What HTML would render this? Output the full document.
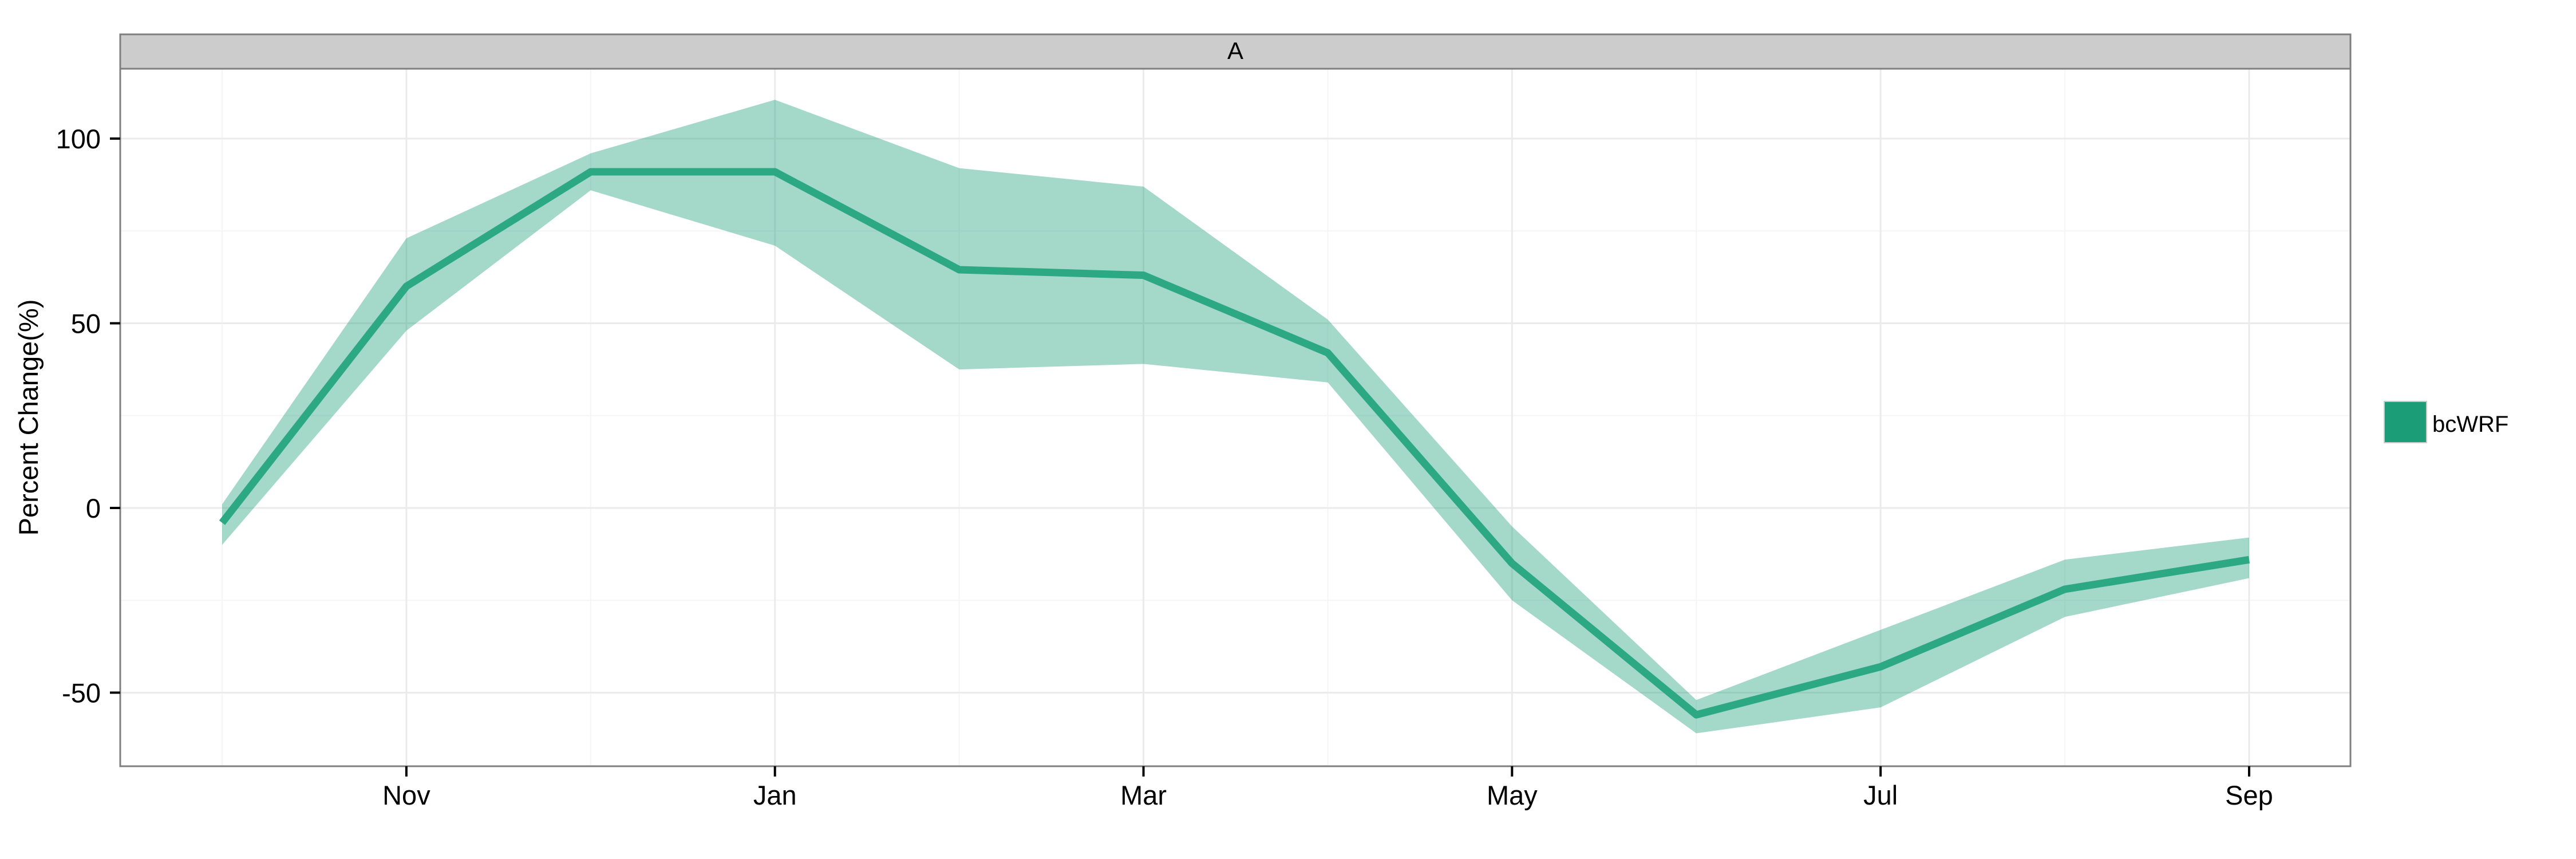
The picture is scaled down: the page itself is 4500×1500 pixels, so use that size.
<!DOCTYPE html>
<html><head><meta charset="utf-8"><style>
html,body{margin:0;padding:0;background:#fff;}
svg{display:block;font-family:"Liberation Sans",sans-serif;}
</style></head><body>
<svg id="chart" width="4500" height="1500" viewBox="0 0 4500 1500">
<rect x="0" y="0" width="4500" height="1500" fill="#fff"/>
<g id="grid"></g>
<g id="marks"></g>
<rect x="210" y="120" width="3896" height="1218" fill="none" stroke="#7f7f7f" stroke-width="3"/>
<rect x="210" y="60" width="3896" height="60" fill="#cccccc" stroke="#7f7f7f" stroke-width="3"/>
<text x="2158" y="103" font-size="42" text-anchor="middle" fill="#000">A</text>
<g id="axes"></g>
<text transform="translate(66,729) rotate(-90)" font-size="47" text-anchor="middle" fill="#000">Percent Change(%)</text>
<rect x="4165" y="701" width="74" height="72" fill="#1b9e77" stroke="#cccccc" stroke-width="2"/>
<text x="4249" y="754" font-size="40" fill="#000">bcWRF</text>
</svg>
<script>
const months = ["Oct","Nov","Dec","Jan","Feb","Mar","Apr","May","Jun","Jul","Aug","Sep"];
const meanValues = [-4,60,91,91,64.5,63,42,-15,-56,-43,-22,-14];
const upperValues = [1,73,96,110.5,92,87,51,-5,-52,-33,-14,-8];
const lowerValues = [-10,48,86,71,37.5,39,34,-25,-61,-54,-29.5,-19];
const yTicks = [-50,0,50,100];
const yTickLabels = ["-50","0","50","100"];
const xTickLabels = ["Nov","Jan","Mar","May","Jul","Sep"];

const NS="http://www.w3.org/2000/svg";
const x0=388, dx=(3929-388)/11;
const xs = i => x0 + i*dx;
const ys = v => 887 - v*6.45;
function mk(tag, attrs, parent){const e=document.createElementNS(NS,tag);for(const k in attrs)e.setAttribute(k,attrs[k]);parent.appendChild(e);return e;}
const grid=document.getElementById('grid'), marks=document.getElementById('marks'), axes=document.getElementById('axes');

// minor y grid
for(let k=0;k<yTicks.length-1;k++){
  const v=(yTicks[k]+yTicks[k+1])/2;
  const l=mk('line',{x1:210,x2:4106,y1:ys(v),y2:ys(v),stroke:'#f5f5f5','stroke-width':2},grid);
  
  
}
// minor x grid (odd months)
months.forEach((m,i)=>{
  const major = xTickLabels.includes(m);
  const l=mk('line',{x1:xs(i),x2:xs(i),y1:120,y2:1338,stroke:major?'#ebebeb':'#f5f5f5','stroke-width':major?3:2},grid);
  
  
});
yTicks.forEach((v,i)=>{
  const l=mk('line',{x1:210,x2:4106,y1:ys(v),y2:ys(v),stroke:'#ebebeb','stroke-width':3},grid);
  
  
  const t=mk('line',{x1:192,x2:210,y1:ys(v),y2:ys(v),stroke:'#000','stroke-width':4},axes);
  
  
  const tx=mk('text',{x:176,y:ys(v)+17,'font-size':47,'text-anchor':'end',fill:'#000'},axes);
  tx.textContent=yTickLabels[i];
  
  
});
months.forEach((m,i)=>{
  if(!xTickLabels.includes(m))return;
  const t=mk('line',{x1:xs(i),x2:xs(i),y1:1338,y2:1356,stroke:'#000','stroke-width':4},axes);
  
  
  const tx=mk('text',{x:xs(i),y:1405,'font-size':47,'text-anchor':'middle',fill:'#000'},axes);
  tx.textContent=m;
  
  
});
// ribbon
let pts=upperValues.map((v,i)=>xs(i)+','+ys(v));
for(let i=lowerValues.length-1;i>=0;i--)pts.push(xs(i)+','+ys(lowerValues[i]));
const rib=mk('polygon',{points:pts.join(' '),fill:'#1b9e77','fill-opacity':0.4},marks);


const line=mk('polyline',{points:meanValues.map((v,i)=>xs(i)+','+ys(v)).join(' '),fill:'none',stroke:'#2ca882','stroke-width':13,'stroke-linejoin':'round'},marks);


</script>
</body></html>
